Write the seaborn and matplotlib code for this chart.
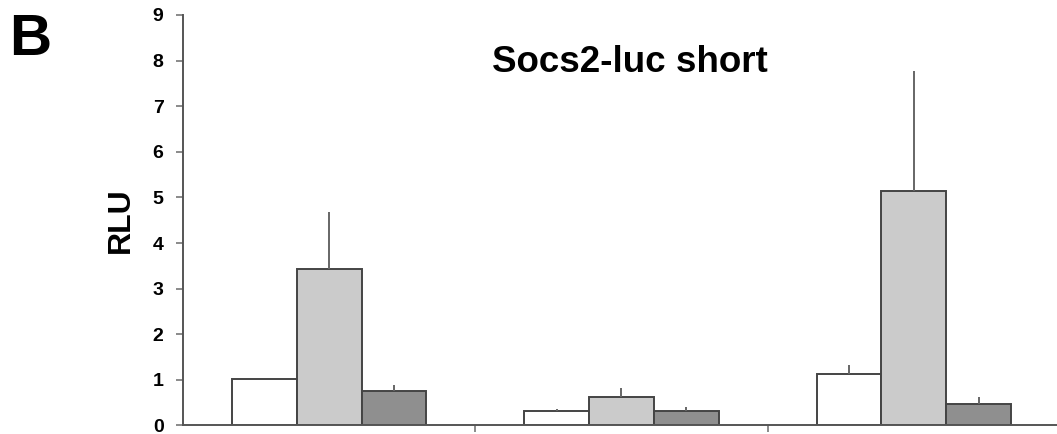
import matplotlib
matplotlib.use("Agg")
import matplotlib.pyplot as plt
import seaborn as sns
import pandas as pd
import numpy as np

# ---- data ----
groups = ["G1", "G2", "G3"]
series = ["S1", "S2", "S3"]
s1_vals = [1.01, 0.31, 1.13]
s2_vals = [3.43, 0.62, 5.15]
s3_vals = [0.76, 0.31, 0.48]
s1_err = [0.00, 0.06, 0.20]
s2_err = [1.26, 0.20, 2.63]
s3_err = [0.13, 0.10, 0.14]
yticks = [0, 1, 2, 3, 4, 5, 6, 7, 8, 9]
title = "Socs2-luc short"
ylabel = "RLU"
panel = "B"

colors = ["#ffffff", "#cbcbcb", "#8f8f8f"]

sns.set_style("white")
plt.rcParams["font.family"] = ["Liberation Sans", "DejaVu Sans"]
plt.rcParams["text.color"] = "black"
plt.rcParams["ytick.labelcolor"] = "black"

rows = []
for vals, errs, s in [(s1_vals, s1_err, "S1"), (s2_vals, s2_err, "S2"), (s3_vals, s3_err, "S3")]:
    for g, v, e in zip(groups, vals, errs):
        rows.append({"group": g, "series": s, "value": v, "err": e})
df = pd.DataFrame(rows)

fig = plt.figure(figsize=(10.57, 4.34), dpi=100)
ax = fig.add_axes([0.1731, 0.0196, 0.8297, 0.9459])

sns.barplot(data=df, x="group", y="value", hue="series", order=groups,
            hue_order=series, palette=colors, errorbar=None, width=0.665,
            gap=0, edgecolor="#444444", linewidth=1.4, saturation=1,
            legend=False, ax=ax)

# upper-only error bars at bar centres
for i, s in enumerate(series):
    for j, g in enumerate(groups):
        p = ax.patches[i * len(groups) + j]
        row = df[(df.series == s) & (df.group == g)].iloc[0]
        if row.err > 0:
            xc = p.get_x() + p.get_width() / 2
            ax.errorbar([xc], [row.value], yerr=[[0], [row.err]], fmt="none",
                        ecolor="#666666", elinewidth=1.4, capsize=0, zorder=1)

ax.set_ylim(0, 9)
ax.set_xlim(-0.5, 2.5)
ax.set_yticks(yticks)
ax.set_yticklabels([str(t) for t in yticks], fontsize=14, fontweight="bold", color="black")
ax.set_xticks([0.5, 1.5])
ax.set_xticklabels([])
ax.set_xlabel("")
ax.set_ylabel("")
for side in ["top", "right"]:
    ax.spines[side].set_visible(False)
for side in ["left", "bottom"]:
    ax.spines[side].set_color("#555555")
    ax.spines[side].set_linewidth(1.4)
ax.tick_params(axis="y", direction="out", length=5, width=1.2, color="#777777", pad=9, left=True)
ax.tick_params(axis="x", direction="out", length=5, width=1.2, color="#777777", bottom=True)

fig.text(0.596, 0.834, title, ha="center", va="baseline", fontsize=26.5, fontweight="bold", color="black")
fig.text(0.0085, 0.873, panel, ha="left", va="baseline", fontsize=42, fontweight="bold", color="black")
fig.text(0.114, 0.492, ylabel, ha="center", va="center", rotation=90, fontsize=23, fontweight="bold", color="black")

fig.savefig("out.png", dpi=100)
